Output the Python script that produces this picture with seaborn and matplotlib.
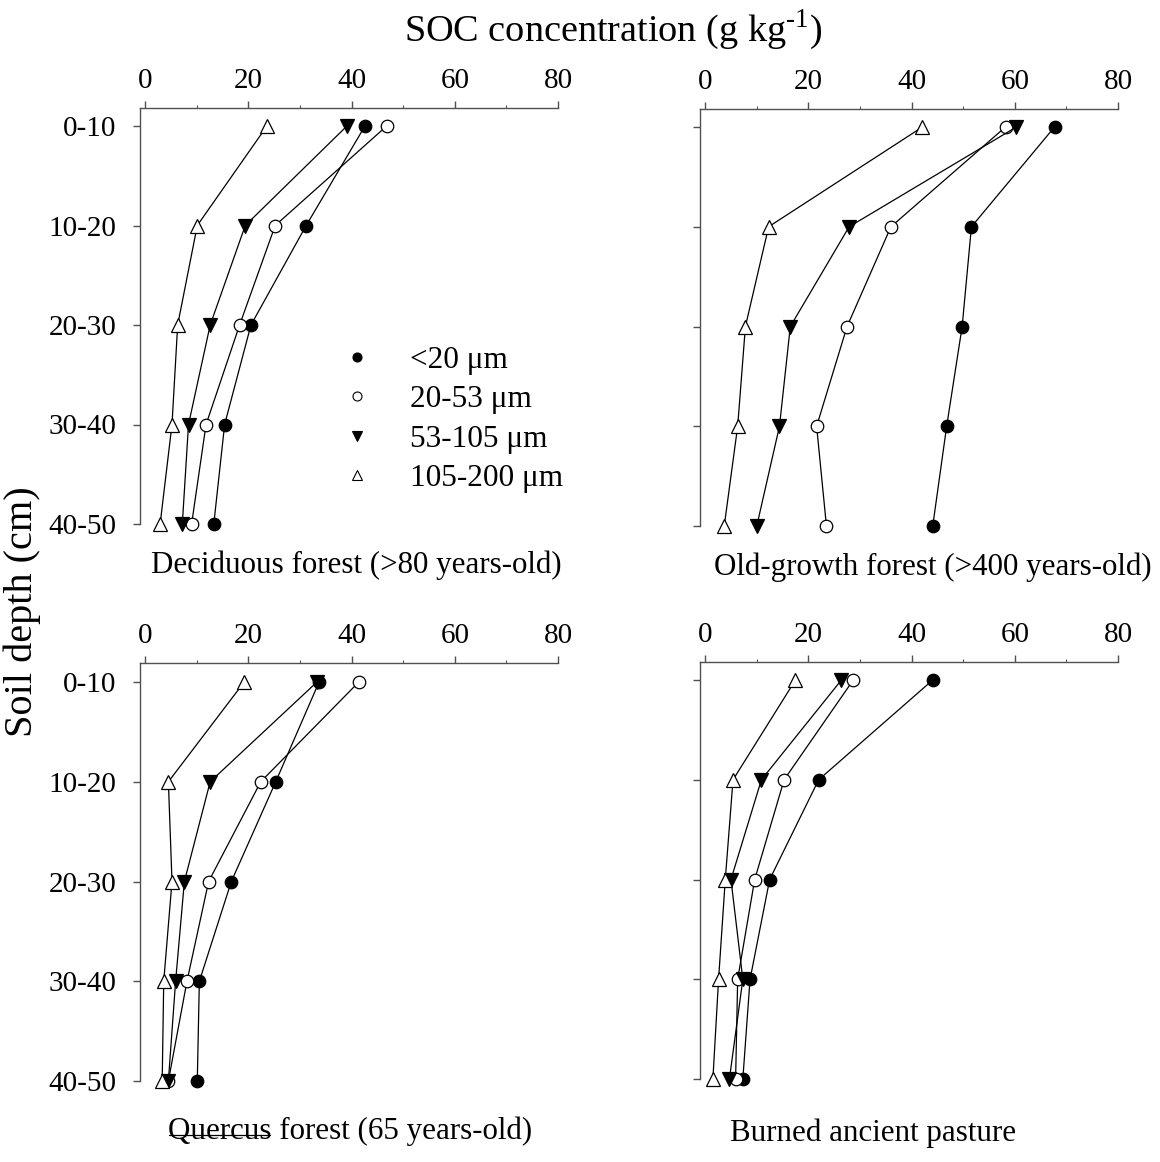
import numpy as np
import pandas as pd
import matplotlib
matplotlib.use("Agg")
import matplotlib.pyplot as plt
import seaborn as sns
from matplotlib.lines import Line2D
from matplotlib.ticker import MultipleLocator

sns.set_theme(style="ticks")
plt.rcParams["font.family"] = ["Liberation Serif", "DejaVu Serif"]
plt.rcParams["mathtext.fontset"] = "custom"
plt.rcParams["mathtext.rm"] = "Liberation Serif"
plt.rcParams["text.color"] = "black"

# %%
# Datos (g kg-1), orden: <20, 20-53, 53-105, 105-200
depths = ["0-10", "10-20", "20-30", "30-40", "40-50"]
fractions = ["<20 \u03bcm", "20-53 \u03bcm", "53-105 \u03bcm", "105-200 \u03bcm"]

deciduous_lt20 = [42.6, 31.2, 20.5, 15.4, 13.3]
deciduous_20_53 = [46.8, 25.2, 18.3, 11.8, 9.0]
deciduous_53_105 = [39.1, 19.4, 12.6, 8.4, 7.2]
deciduous_105_200 = [23.6, 10.1, 6.3, 5.2, 2.9]

oldgrowth_lt20 = [67.7, 51.6, 49.8, 46.8, 44.1]
oldgrowth_20_53 = [58.2, 36.0, 27.5, 21.6, 23.5]
oldgrowth_53_105 = [60.3, 27.9, 16.5, 14.4, 10.0]
oldgrowth_105_200 = [42.1, 12.3, 7.8, 6.3, 3.7]

quercus_lt20 = [33.7, 25.3, 16.7, 10.5, 10.1]
quercus_20_53 = [41.4, 22.4, 12.3, 8.1, 4.5]
quercus_53_105 = [33.3, 12.6, 7.6, 5.9, 4.5]
quercus_105_200 = [19.2, 4.5, 5.2, 3.6, 3.3]

pasture_lt20 = [44.1, 22.0, 12.5, 8.7, 7.3]
pasture_20_53 = [28.7, 15.3, 9.6, 6.3, 5.9]
pasture_53_105 = [26.4, 10.9, 5.0, 7.3, 4.7]
pasture_105_200 = [17.5, 5.4, 3.9, 2.6, 1.5]

panels = [
    ("Deciduous forest (>80 years-old)",
     [deciduous_lt20, deciduous_20_53, deciduous_53_105, deciduous_105_200]),
    ("Old-growth forest (>400 years-old)",
     [oldgrowth_lt20, oldgrowth_20_53, oldgrowth_53_105, oldgrowth_105_200]),
    ("Quercus forest (65 years-old)",
     [quercus_lt20, quercus_20_53, quercus_53_105, quercus_105_200]),
    ("Burned ancient pasture",
     [pasture_lt20, pasture_20_53, pasture_53_105, pasture_105_200]),
]

marcadores = ["o", "o", "v", "^"]
rellenos = ["black", "white", "black", "white"]
tamanos = [9, 9, 10, 10]

# %%
W, H = 1160, 1162
# cajas en pixeles: izq, arriba, der, abajo, fila 0-10
cajas = [(140, 108, 558, 524, 126), (700, 109, 1118, 526, 127),
         (140, 663, 558, 1081, 682), (700, 662, 1118, 1079, 680)]
textos = [(356, 565), (933, 567), (350, 1131), (873, 1133)]
gris = "#505050"

fig = plt.figure(figsize=(W / 100, H / 100), dpi=100)
ejes = []
for k, ((titulo, series), (l, t, r, b, f0)) in enumerate(zip(panels, cajas)):
    ax = fig.add_axes([l / W, 1 - b / H, (r - l) / W, (b - t) / H])
    esp = (b - f0) / 4
    for i, frac in enumerate(fractions):
        df = pd.DataFrame({"soc": series[i], "prof": np.arange(len(depths))})
        sns.lineplot(data=df, x="soc", y="prof", sort=False, estimator=None,
                     ax=ax, color="black", linewidth=0.9, marker=marcadores[i],
                     markersize=tamanos[i], markerfacecolor=rellenos[i],
                     markeredgecolor="black", markeredgewidth=0.9, zorder=3,
                     clip_on=False)
    ax.set_xlim(-1, 80)
    ax.set_ylim(4, -(f0 - t) / esp)
    ax.xaxis.tick_top()
    ax.set_xticks([0, 20, 40, 60, 80])
    ax.xaxis.set_minor_locator(MultipleLocator(10))
    ax.set_yticks(range(len(depths)))
    if k % 2 == 0:
        ax.set_yticklabels(depths)
    else:
        ax.set_yticklabels([])
    ax.set_xlabel("")
    ax.set_ylabel("")
    for lado in ["right", "bottom"]:
        ax.spines[lado].set_visible(False)
    for lado in ["top", "left"]:
        ax.spines[lado].set_color(gris)
        ax.spines[lado].set_linewidth(1.0)
    ax.tick_params(axis="x", which="major", length=5, width=1, pad=5,
                   labelsize=21, color=gris, labelcolor="black")
    ax.tick_params(axis="x", which="minor", length=2.5, width=0.8, color=gris)
    ax.tick_params(axis="y", which="major", length=5, width=1, pad=12,
                   labelsize=21, color=gris, labelcolor="black")
    ax.set_facecolor("white")
    fig.text(textos[k][0] / W, 1 - textos[k][1] / H, titulo, ha="center",
             va="center", fontsize=22.3)
    ejes.append(ax)

# raya sobre "Quercus" como en el original
fig.add_artist(Line2D([169 / W, 270 / W], [1 - 1135 / H, 1 - 1135 / H],
                      color="black", linewidth=0.9))

manejadores = [Line2D([], [], linestyle="none", marker=marcadores[i],
                      markersize=tamanos[i] * 0.72, color="black",
                      markerfacecolor=rellenos[i], markeredgecolor="black",
                      markeredgewidth=0.8) for i in range(len(fractions))]
ejes[0].legend(manejadores, fractions, loc="upper left",
               bbox_to_anchor=(341 / W, 1 - 346 / H),
               bbox_transform=fig.transFigure, frameon=False, fontsize=22.5,
               handlelength=1.0, handletextpad=1.2, labelspacing=0.33,
               borderpad=0, borderaxespad=0)

fig.text(613 / W, 1 - 30 / H, "SOC concentration (g kg$^{\\text{-1}}$)",
         ha="center", va="center", fontsize=27.5)
fig.text(22 / W, 1 - 612 / H, "Soil depth (cm)", ha="center", va="center",
         rotation=90, fontsize=29)

fig.savefig("out.png", dpi=100, facecolor="white")
